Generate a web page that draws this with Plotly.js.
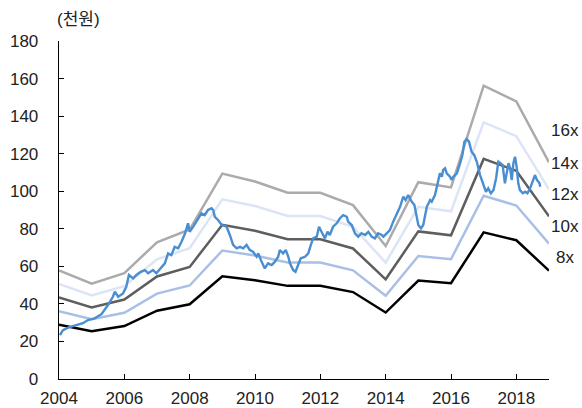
<!DOCTYPE html>
<html>
<head>
<meta charset="utf-8">
<script src="https://cdn.plot.ly/plotly-3.0.1.min.js"></script>
<style>html,body{margin:0;padding:0;background:#fff;}#chart{width:582px;height:408px;}</style>
</head>
<body>
<div id="chart"></div>
<script>
// Band years (annual points)
const bandYears = [2004,2005,2006,2007,2008,2009,2010,2011,2012,2013,2014,2015,2016,2017,2018,2019];
// PER band values (천원)
const band8x  = [28.9,25.4,28.2,36.4,39.8,54.7,52.6,49.6,49.6,46.3,35.4,52.4,51.0,78.1,73.9,57.7];
const band10x = [36.1,31.8,35.3,45.5,49.8,68.4,65.8,62.0,62.0,57.9,44.3,65.5,63.8,97.6,92.4,72.1];
const band12x = [43.4,38.1,42.3,54.6,59.7,82.1,78.9,74.4,74.4,69.5,53.1,78.6,76.5,117.2,110.9,86.6];
const band14x = [50.6,44.5,49.4,63.7,69.7,95.7,92.1,86.8,86.8,81.0,62.0,91.7,89.3,136.7,129.3,101.0];
const band16x = [57.8,50.8,56.4,72.8,79.6,109.4,105.2,99.2,99.2,92.6,70.8,104.8,102.0,156.2,147.8,115.4];

// Share price (천원)
const priceDates = [2004.03,2004.12,2004.30,2004.50,2004.73,2004.89,2005.09,2005.30,2005.50,2005.65,2005.71,2005.81,2005.96,2006.06,2006.14,2006.27,2006.37,2006.50,2006.63,2006.73,2006.88,2006.98,2007.14,2007.24,2007.34,2007.44,2007.54,2007.65,2007.75,2007.86,2007.95,2008.00,2008.11,2008.26,2008.36,2008.46,2008.56,2008.67,2008.72,2008.77,2008.87,2008.98,2009.13,2009.23,2009.33,2009.44,2009.54,2009.64,2009.74,2009.84,2009.94,2010.05,2010.10,2010.20,2010.30,2010.40,2010.51,2010.61,2010.71,2010.76,2010.86,2010.94,2011.02,2011.07,2011.17,2011.24,2011.32,2011.40,2011.53,2011.63,2011.71,2011.78,2011.89,2011.96,2012.06,2012.14,2012.22,2012.29,2012.39,2012.50,2012.60,2012.70,2012.81,2012.85,2012.96,2013.06,2013.16,2013.26,2013.37,2013.47,2013.57,2013.67,2013.77,2013.88,2013.93,2014.03,2014.13,2014.23,2014.34,2014.44,2014.54,2014.61,2014.69,2014.80,2014.88,2014.95,2015.00,2015.08,2015.15,2015.20,2015.26,2015.36,2015.41,2015.51,2015.61,2015.66,2015.72,2015.76,2015.82,2015.87,2015.97,2016.02,2016.07,2016.18,2016.28,2016.35,2016.41,2016.48,2016.55,2016.63,2016.71,2016.79,2016.89,2016.99,2017.07,2017.14,2017.22,2017.30,2017.38,2017.45,2017.52,2017.58,2017.65,2017.71,2017.76,2017.81,2017.86,2017.91,2017.96,2018.01,2018.06,2018.11,2018.20,2018.27,2018.34,2018.42,2018.50,2018.57,2018.63,2018.71,2018.73];
const priceValues = [23.4,26.0,27.5,28.5,29.7,31.4,32.3,34.5,39.4,43.8,46.5,43.8,45.6,49.1,55.4,53.6,55.4,57.1,58.0,56.3,58.0,56.3,59.8,61.6,66.9,66.0,70.4,69.6,73.1,77.6,82.9,78.4,81.1,85.6,88.2,87.3,90.0,90.9,90.0,86.4,84.7,82.0,81.1,76.7,71.4,69.6,70.4,69.6,71.4,68.7,67.8,65.1,66.9,62.5,58.9,61.6,60.7,62.5,65.1,68.7,66.9,68.7,65.1,61.6,58.0,57.1,60.7,64.3,65.1,66.9,71.4,74.9,75.8,81.1,77.6,74.9,78.4,76.7,81.1,82.9,85.6,87.3,86.4,83.8,82.0,77.6,75.8,77.6,76.7,78.4,75.8,74.9,77.6,76.7,75.8,77.6,79.3,83.8,88.2,91.7,97.1,95.3,98.0,94.4,92.7,85.6,82.0,80.2,82.0,86.4,91.7,95.3,94.4,98.0,105.0,109.5,107.7,111.3,112.2,109.5,107.7,106.0,107.7,109.5,114.9,119.3,126.4,127.8,126.4,121.0,119.3,115.7,108.6,103.3,99.7,101.5,98.9,100.6,106.9,115.7,114.9,114.0,104.2,111.3,114.9,112.2,106.0,114.9,118.4,113.0,104.2,100.6,98.9,99.7,98.9,101.5,106.0,108.6,106.0,104.2,102.4];

const labels = ['16x','14x','12x','10x','8x'];
const labelY = [132.6,114.9,98.0,81.1,64.8];
const xTicks = [2004,2006,2008,2010,2012,2014,2016,2018];
const yTicks = [0,20,40,60,80,100,120,140,160,180];

const FONT = 'Liberation Sans, Arial, Noto Sans CJK KR, sans-serif';
const mk = (y, color, w) => ({x: bandYears, y: y, type: 'scatter', mode: 'lines', line: {color: color, width: w}, hoverinfo: 'skip', showlegend: false});

const traces = [
  mk(band16x, '#ababab', 2.5),
  mk(band14x, '#dbe5f5', 2.5),
  mk(band12x, '#5e5e5e', 2.5),
  mk(band10x, '#a9c0e6', 2.5),
  mk(band8x, '#000000', 2.5),
  {x: priceDates, y: priceValues, type: 'scatter', mode: 'lines', line: {color: '#4a8ed2', width: 2.4}, showlegend: false, hoverinfo: 'skip'}
];

const annotations = labels.map((t, i) => ({
  x: 2019, y: labelY[i], xref: 'x', yref: 'y', text: t, showarrow: false,
  xanchor: 'center', yanchor: 'middle', xshift: 16,
  font: {family: FONT, size: 17, color: '#222'}
}));
annotations.push({
  x: 0, y: 1, xref: 'paper', yref: 'paper', text: '(천원)', showarrow: false,
  xanchor: 'left', yanchor: 'middle', xshift: -4, yshift: 22,
  font: {family: FONT, size: 17, color: '#222'}
});

const layout = {
  width: 582, height: 408,
  margin: {l: 59, r: 33, t: 41, b: 29},
  paper_bgcolor: '#fff', plot_bgcolor: '#fff',
  font: {family: FONT, size: 17, color: '#222'},
  xaxis: {
    range: [2004, 2019], tickvals: xTicks, ticktext: xTicks.map(String),
    showgrid: false, zeroline: false, showline: true, linecolor: '#000', linewidth: 1.3,
    ticks: 'inside', ticklen: 5, tickcolor: '#000', tickwidth: 1,
    tickfont: {family: FONT, size: 17, color: '#222'}, ticklabelstandoff: 3
  },
  yaxis: {
    range: [0, 180], tickvals: yTicks, ticktext: yTicks.map(String),
    showgrid: false, zeroline: false, showline: true, linecolor: '#000', linewidth: 1.3,
    ticks: 'inside', ticklen: 5, tickcolor: '#000', tickwidth: 1,
    tickfont: {family: FONT, size: 17, color: '#222'}, ticklabelstandoff: 16
  },
  annotations: annotations
};

Plotly.newPlot('chart', traces, layout, {displayModeBar: false, staticPlot: true});
</script>
</body>
</html>
